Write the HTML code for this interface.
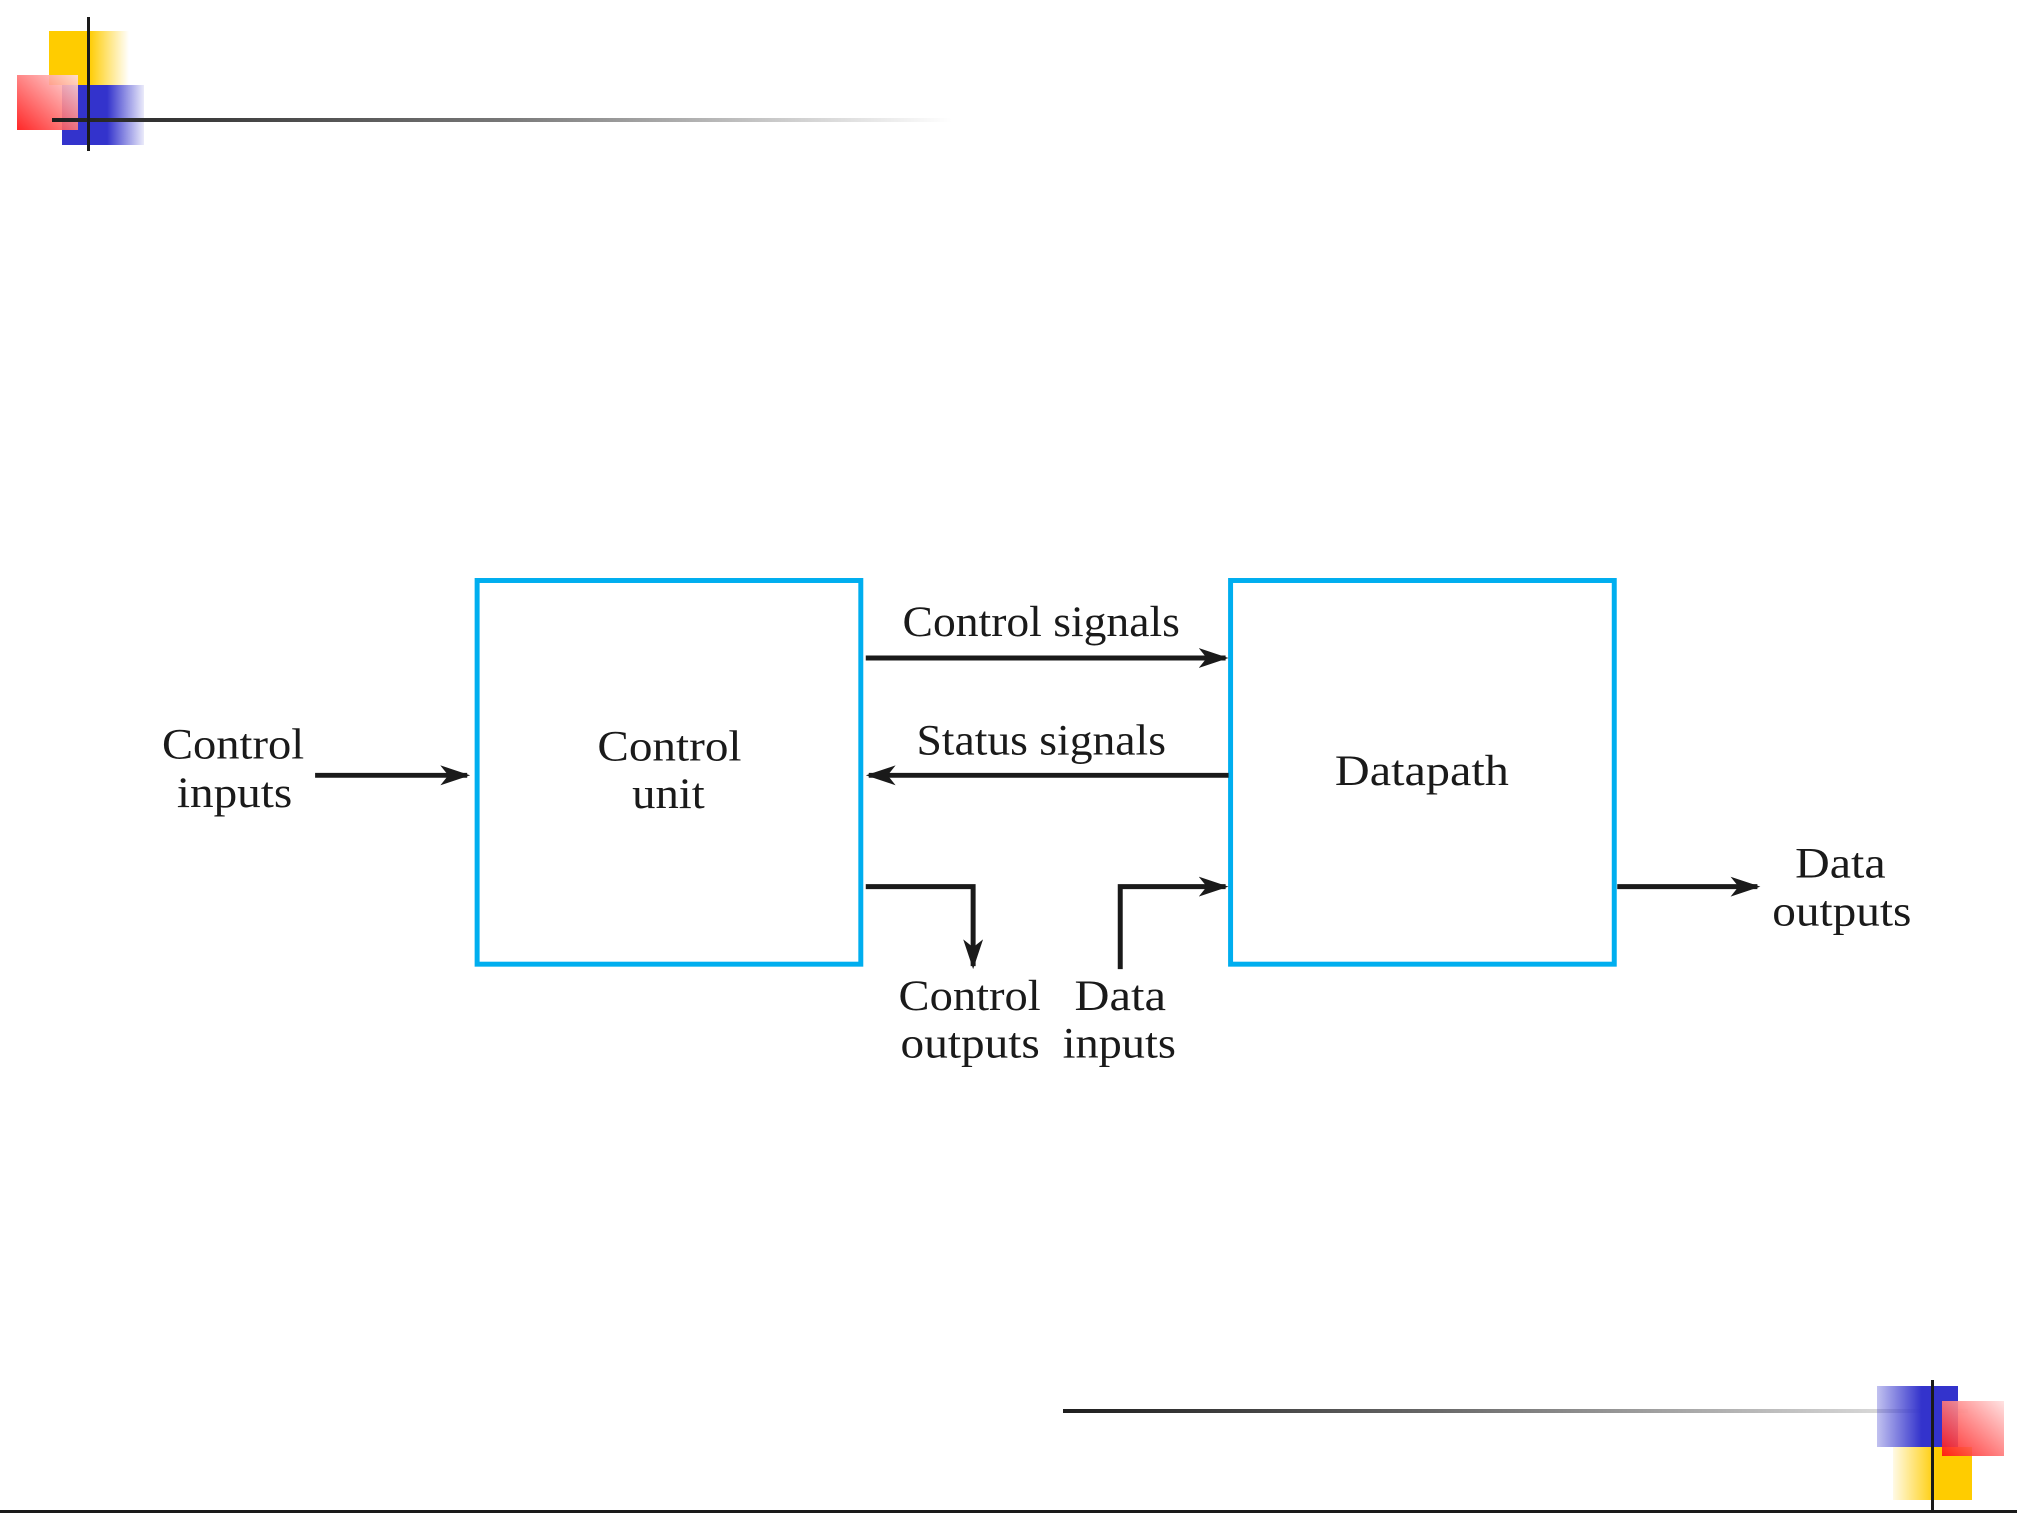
<!DOCTYPE html>
<html><head><meta charset="utf-8"><style>
html,body{margin:0;padding:0;background:#fff;}
svg{display:block;}
text{font-family:"Liberation Serif",serif;fill:#1a1a1a;font-size:44px;}
</style></head><body>
<svg width="2017" height="1513" viewBox="0 0 2017 1513" xmlns="http://www.w3.org/2000/svg">
<defs>
<linearGradient id="hl" x1="0" x2="1" y1="0" y2="0"><stop offset="0" stop-color="#1e1e1e"/><stop offset="0.5" stop-color="#777"/><stop offset="1" stop-color="#fff"/></linearGradient>
<linearGradient id="hl2" x1="0" x2="1" y1="0" y2="0"><stop offset="0" stop-color="#1e1e1e"/><stop offset="0.4" stop-color="#666"/><stop offset="1" stop-color="#eee"/></linearGradient>
<linearGradient id="yl" x1="0" x2="1"><stop offset="0.5" stop-color="#ffcc00"/><stop offset="1" stop-color="#ffcc00" stop-opacity="0"/></linearGradient>
<linearGradient id="bl" x1="0" x2="1"><stop offset="0.55" stop-color="#3333cc"/><stop offset="1" stop-color="#3333cc" stop-opacity="0.1"/></linearGradient>
<linearGradient id="rd" x1="0" y1="1" x2="1" y2="0"><stop offset="0" stop-color="#ff1010"/><stop offset="1" stop-color="#ffe0e0"/></linearGradient>
<linearGradient id="yr" x1="1" x2="0"><stop offset="0.45" stop-color="#ffcc00"/><stop offset="1" stop-color="#ffcc00" stop-opacity="0.1"/></linearGradient>
<linearGradient id="br" x1="1" x2="0"><stop offset="0.45" stop-color="#3333cc"/><stop offset="1" stop-color="#3333cc" stop-opacity="0.3"/></linearGradient>
<marker id="ah" markerWidth="30" markerHeight="24" refX="27" refY="12" orient="auto" markerUnits="userSpaceOnUse" viewBox="0 0 30 24"><path d="M0,2 L30,12 L0,22 L8,12 Z" fill="#1a1a1a"/></marker>
</defs>
<!-- top-left deco -->
<rect x="49" y="31" width="80" height="54" fill="url(#yl)"/>
<rect x="62" y="85" width="82" height="60" fill="url(#bl)"/>
<rect x="17" y="75" width="61" height="55" fill="url(#rd)" opacity="0.9"/>
<rect x="52" y="118" width="900" height="4" fill="url(#hl)"/>
<rect x="87" y="17" width="3" height="134" fill="#1a1a1a"/>
<!-- bottom-right deco -->
<rect x="1063" y="1409" width="905" height="4" fill="url(#hl2)"/>
<rect x="1877" y="1386" width="81" height="61" fill="url(#br)"/>
<rect x="1893" y="1447" width="79" height="53" fill="url(#yr)"/>
<rect x="1942" y="1401" width="62" height="55" fill="url(#rd)" opacity="0.9"/>
<rect x="1931" y="1380" width="3" height="133" fill="#1a1a1a"/>
<rect x="0" y="1510" width="2017" height="3" fill="#1a1a1a"/>
<g transform="scale(0.994)">
<!-- boxes -->
<rect x="480" y="584" width="386" height="386" fill="none" stroke="#00aeef" stroke-width="5"/>
<rect x="1238" y="584" width="386" height="386" fill="none" stroke="#00aeef" stroke-width="5"/>
<!-- arrows -->
<g stroke="#1a1a1a" stroke-width="5" fill="none" marker-end="url(#ah)">
<line x1="871" y1="662" x2="1233" y2="662"/>
<line x1="1236" y1="780" x2="874" y2="780"/>
<line x1="317" y1="780" x2="470" y2="780"/>
<polyline points="871,892 979,892 979,972"/>
<polyline points="1127,975 1127,892 1233,892"/>
<line x1="1627" y1="892" x2="1768" y2="892"/>
</g>
<!-- labels -->
<text x="908" y="640" textLength="279" lengthAdjust="spacingAndGlyphs">Control signals</text>
<text x="922" y="759" textLength="251" lengthAdjust="spacingAndGlyphs">Status signals</text>
<text x="163" y="763" textLength="143" lengthAdjust="spacingAndGlyphs">Control</text>
<text x="178" y="812" textLength="116" lengthAdjust="spacingAndGlyphs">inputs</text>
<text x="601" y="765" textLength="145" lengthAdjust="spacingAndGlyphs">Control</text>
<text x="636" y="813" textLength="73" lengthAdjust="spacingAndGlyphs">unit</text>
<text x="1343" y="790" textLength="175" lengthAdjust="spacingAndGlyphs">Datapath</text>
<text x="904" y="1016" textLength="143" lengthAdjust="spacingAndGlyphs">Control</text>
<text x="906" y="1064" textLength="140" lengthAdjust="spacingAndGlyphs">outputs</text>
<text x="1081" y="1016" textLength="92" lengthAdjust="spacingAndGlyphs">Data</text>
<text x="1069" y="1064" textLength="114" lengthAdjust="spacingAndGlyphs">inputs</text>
<text x="1806" y="883" textLength="91" lengthAdjust="spacingAndGlyphs">Data</text>
<text x="1783" y="931" textLength="140" lengthAdjust="spacingAndGlyphs">outputs</text>
</g>
</svg>
</body></html>
